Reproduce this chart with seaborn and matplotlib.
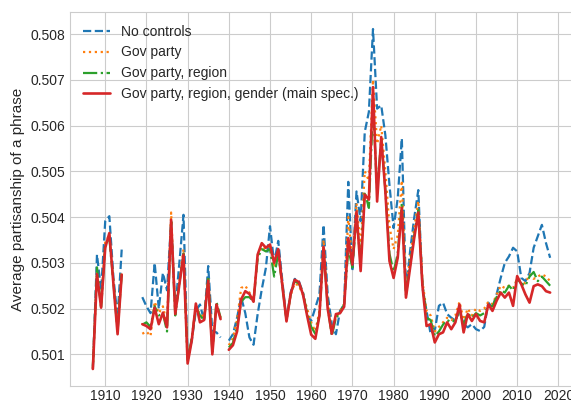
import numpy as np
import pandas as pd
import matplotlib
matplotlib.use("Agg")
import matplotlib.pyplot as plt
from matplotlib.ticker import FormatStrFormatter, MultipleLocator
import seaborn as sns

years = list(range(1907, 2019))
N = None  # years without data

no_controls = [
    0.50068, 0.50318, 0.50240, 0.50391, 0.50402, 0.50267, 0.50180, 0.50329,  # 1907-1914
    N, N, N, N,
    0.50225, 0.50205, 0.50190, 0.50300, 0.50200, 0.50278, 0.50240, 0.50390, 0.50200, 0.50300,  # 1919-1928
    0.50405, 0.50090, 0.50130, 0.50195, 0.50209, 0.50174, 0.50293, 0.50150, 0.50148, 0.50137,  # 1929-1938
    N,
    0.50130, 0.50144, 0.50180, 0.50225, 0.50190, 0.50137, 0.50121, 0.50188, 0.50242, 0.50289,  # 1940-1949
    0.50380, 0.50300, 0.50348, 0.50260, 0.50175, 0.50235, 0.50265, 0.50260, 0.50235, 0.50185,  # 1950-1959
    0.50173, 0.50202, 0.50231, 0.50383, 0.50231, 0.50166, 0.50144, 0.50195, 0.50209, 0.50477,  # 1960-1969
    0.50282, 0.50456, 0.50391, 0.50586, 0.50630, 0.50811, 0.50637, 0.50644, 0.50579, 0.50470,  # 1970-1979
    0.50376, 0.50441, 0.50572, 0.50238, 0.50325, 0.50398, 0.50459, 0.50246, 0.50195, 0.50144,  # 1980-1989
    0.50152, 0.50206, 0.50213, 0.50188, 0.50180, 0.50174, 0.50195, 0.50166, 0.50159, 0.50166,  # 1990-1999
    0.50155, 0.50151, 0.50160, 0.50213, 0.50202, 0.50231, 0.50267, 0.50300, 0.50314, 0.50333,  # 2000-2009
    0.50325, 0.50267, 0.50260, 0.50278, 0.50333, 0.50358, 0.50383, 0.50343, 0.50311,  # 2010-2018
]

gov_party = [
    0.50070, 0.50280, 0.50210, 0.50345, 0.50360, 0.50260, 0.50160, 0.50280,
    N, N, N, N,
    0.50145, 0.50150, 0.50140, 0.50215, 0.50190, 0.50205, 0.50165, 0.50410, 0.50190, 0.50260,
    0.50330, 0.50085, 0.50135, 0.50200, 0.50190, 0.50180, 0.50270, 0.50110, 0.50210, 0.50180,
    N,
    0.50120, 0.50135, 0.50175, 0.50245, 0.50250, 0.50235, 0.50220, 0.50315, 0.50335, 0.50330,
    0.50335, 0.50290, 0.50325, 0.50255, 0.50175, 0.50230, 0.50255, 0.50250, 0.50230, 0.50200,
    0.50170, 0.50150, 0.50195, 0.50350, 0.50215, 0.50150, 0.50180, 0.50195, 0.50210, 0.50400,
    0.50300, 0.50430, 0.50330, 0.50500, 0.50480, 0.50700, 0.50560, 0.50600, 0.50500, 0.50380,
    0.50330, 0.50360, 0.50480, 0.50235, 0.50310, 0.50375, 0.50435, 0.50260, 0.50195, 0.50185,
    0.50150, 0.50160, 0.50170, 0.50180, 0.50175, 0.50185, 0.50215, 0.50175, 0.50200, 0.50185,
    0.50200, 0.50195, 0.50200, 0.50215, 0.50210, 0.50230, 0.50250, 0.50245, 0.50250, 0.50245,
    0.50265, 0.50260, 0.50255, 0.50275, 0.50265, 0.50270, 0.50275, 0.50270, 0.50260,
]

gov_party_region = [
    0.50075, 0.50290, 0.50200, 0.50340, 0.50355, 0.50255, 0.50150, 0.50275,
    N, N, N, N,
    0.50165, 0.50170, 0.50160, 0.50205, 0.50185, 0.50190, 0.50150, 0.50390, 0.50185, 0.50255,
    0.50320, 0.50085, 0.50135, 0.50205, 0.50185, 0.50175, 0.50265, 0.50105, 0.50215, 0.50180,
    N,
    0.50115, 0.50125, 0.50160, 0.50215, 0.50225, 0.50225, 0.50215, 0.50310, 0.50330, 0.50325,
    0.50330, 0.50270, 0.50320, 0.50250, 0.50175, 0.50230, 0.50260, 0.50255, 0.50235, 0.50190,
    0.50160, 0.50145, 0.50185, 0.50330, 0.50205, 0.50140, 0.50180, 0.50190, 0.50210, 0.50330,
    0.50290, 0.50400, 0.50300, 0.50455, 0.50420, 0.50640, 0.50460, 0.50570, 0.50460, 0.50320,
    0.50280, 0.50320, 0.50430, 0.50230, 0.50295, 0.50360, 0.50415, 0.50255, 0.50180, 0.50175,
    0.50140, 0.50150, 0.50165, 0.50175, 0.50170, 0.50175, 0.50195, 0.50165, 0.50190, 0.50180,
    0.50190, 0.50185, 0.50190, 0.50205, 0.50205, 0.50225, 0.50240, 0.50235, 0.50250, 0.50240,
    0.50265, 0.50255, 0.50250, 0.50270, 0.50280, 0.50260, 0.50270, 0.50260, 0.50250,
]

main_spec = [
    0.50068, 0.50275, 0.50202, 0.50333, 0.50365, 0.50253, 0.50144, 0.50274,
    N, N, N, N,
    0.50166, 0.50162, 0.50155, 0.50202, 0.50166, 0.50191, 0.50159, 0.50394, 0.50188, 0.50253,
    0.50318, 0.50080, 0.50130, 0.50211, 0.50170, 0.50175, 0.50261, 0.50100, 0.50209, 0.50177,
    N,
    0.50110, 0.50120, 0.50150, 0.50220, 0.50238, 0.50232, 0.50215, 0.50318, 0.50343, 0.50333,
    0.50340, 0.50300, 0.50330, 0.50250, 0.50172, 0.50231, 0.50263, 0.50258, 0.50231, 0.50185,
    0.50143, 0.50134, 0.50185, 0.50335, 0.50200, 0.50145, 0.50188, 0.50190, 0.50204, 0.50354,
    0.50296, 0.50412, 0.50282, 0.50449, 0.50438, 0.50684, 0.50434, 0.50575, 0.50456, 0.50304,
    0.50267, 0.50311, 0.50420, 0.50224, 0.50289, 0.50354, 0.50410, 0.50250, 0.50162, 0.50166,
    0.50126, 0.50144, 0.50148, 0.50170, 0.50155, 0.50170, 0.50209, 0.50148, 0.50188, 0.50173,
    0.50188, 0.50173, 0.50170, 0.50209, 0.50195, 0.50217, 0.50235, 0.50224, 0.50235, 0.50206,
    0.50271, 0.50253, 0.50231, 0.50213, 0.50249, 0.50253, 0.50249, 0.50238, 0.50235,
]

labels = ["No controls", "Gov party", "Gov party, region",
          "Gov party, region, gender (main spec.)"]
series = [no_controls, gov_party, gov_party_region, main_spec]

# long format; each run of consecutive years is its own unit so gaps stay open
frames = []
for label, vals in zip(labels, series):
    d = pd.DataFrame({"year": years, "value": vals, "spec": label}).dropna()
    d["segment"] = (d["year"].diff() > 1).cumsum()
    frames.append(d)
df = pd.concat(frames, ignore_index=True)

sns.set_style("whitegrid")
plt.rcParams["font.family"] = ["Liberation Sans", "DejaVu Sans"]
plt.rcParams["font.size"] = 10

colors = ["#1f77b4", "#ff7f0e", "#2ca02c", "#d62728"]
dashes = {
    labels[0]: (3.7, 1.6),
    labels[1]: (1, 1.65),
    labels[2]: (6.4, 1.6, 1, 1.6),
    labels[3]: "",
}

fig = plt.figure(figsize=(5.71, 4.03), dpi=100)
ax = fig.add_axes([70 / 571, 17 / 403, 503 / 571, 374 / 403])

sns.lineplot(data=df, x="year", y="value", hue="spec", style="spec",
             units="segment", estimator=None, hue_order=labels,
             style_order=labels, palette=colors, dashes=dashes,
             linewidth=1.6, ax=ax)

for line in ax.lines:
    if line.get_color() == colors[3]:
        line.set_linewidth(1.9)

h, l = ax.get_legend_handles_labels()
keep = [(hh, ll) for hh, ll in zip(h, l) if ll in labels]
ax.legend([k[0] for k in keep], [k[1] for k in keep], loc="upper left",
          frameon=False, fontsize=10)

ax.xaxis.set_major_locator(MultipleLocator(10))
ax.yaxis.set_major_formatter(FormatStrFormatter("%.3f"))
ax.set_xlabel("")
ax.set_ylabel("Average partisanship of a phrase", fontsize=11)
ax.tick_params(labelsize=10, length=0)
ax.tick_params(axis="x", pad=2)

fig.savefig("out.png", dpi=100)
